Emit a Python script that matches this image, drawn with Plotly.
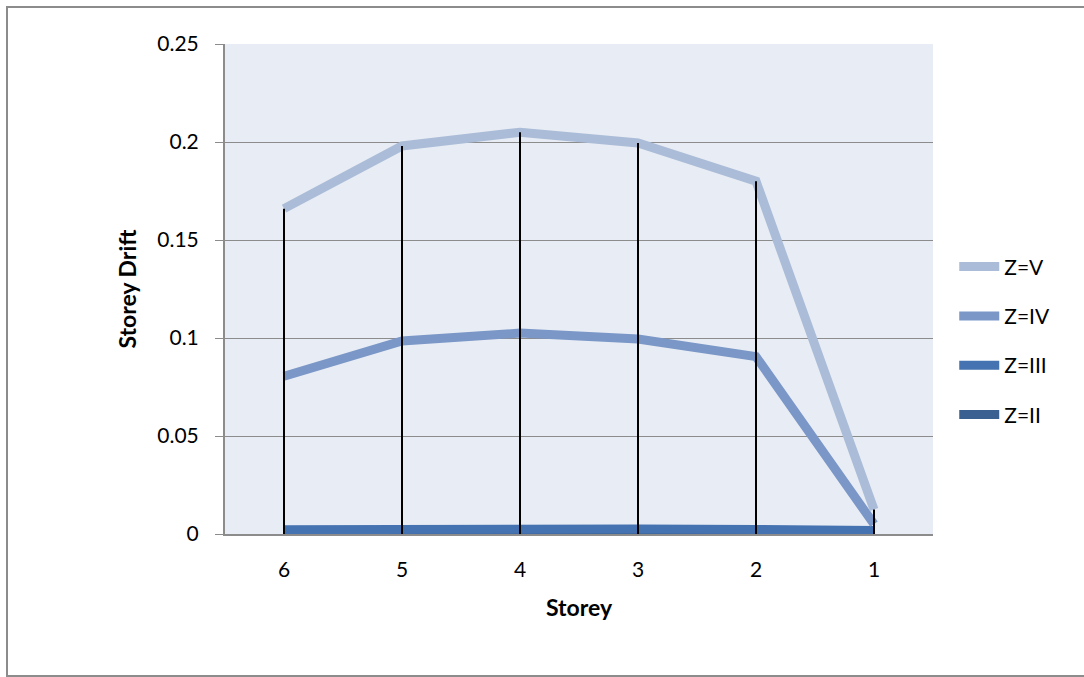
import plotly.graph_objects as go

# Storey drift per storey for each seismic zone
storeys = ["6", "5", "4", "3", "2", "1"]
drift_zone_v = [0.166, 0.198, 0.205, 0.1995, 0.180, 0.0125]
drift_zone_iv = [0.0805, 0.0985, 0.1025, 0.0995, 0.0905, 0.005]
drift_zone_iii = [0.0022, 0.0026, 0.0027, 0.0026, 0.0023, 0.0018]
drift_zone_ii = [0.0015, 0.0018, 0.0019, 0.0018, 0.0016, 0.0012]

y_ticks = [0, 0.05, 0.1, 0.15, 0.2, 0.25]
y_tick_labels = ["0", "0.05", "0.1", "0.15", "0.2", "0.25"]

series = [
    ("Z=V", drift_zone_v, "#AABCD7"),
    ("Z=IV", drift_zone_iv, "#7A97C7"),
    ("Z=III", drift_zone_iii, "#4572B0"),
    ("Z=II", drift_zone_ii, "#3A5F91"),
]

FONT = "Lato, 'Open Sans', sans-serif"

fig = go.Figure()

# Drop lines from the highest series value down to the axis
top_values = [max(vals) for vals in zip(drift_zone_v, drift_zone_iv, drift_zone_iii, drift_zone_ii)]
drop_x, drop_y = [], []
for s, top in zip(storeys, top_values):
    drop_x += [s, s, None]
    drop_y += [top, 0, None]

# Draw lower zones first so Z=III sits on top of Z=II, Z=V on top of all
draw_order = [3, 2, 1, 0]
for i in draw_order:
    name, vals, color = series[i]
    fig.add_trace(go.Scatter(
        x=storeys, y=vals, name=name, mode="lines",
        line=dict(color=color, width=9),
        legendgroup=name, legendrank=i + 1,
    ))

fig.add_trace(go.Scatter(
    x=drop_x, y=drop_y, mode="lines",
    line=dict(color="black", width=2),
    showlegend=False, hoverinfo="skip",
))

fig.update_layout(
    width=1084, height=677,
    margin=dict(l=225, r=151, t=44, b=143),
    paper_bgcolor="white",
    plot_bgcolor="#E8ECF4",
    font=dict(family=FONT, size=21, color="black"),
    showlegend=True,
    legend=dict(
        x=1.03, y=0.394, xanchor="left", yanchor="middle",
        traceorder="grouped", tracegroupgap=19,
        font=dict(family=FONT, size=21, color="black"),
        itemwidth=40, bgcolor="rgba(0,0,0,0)",
    ),
    xaxis=dict(
        type="category", categoryorder="array", categoryarray=storeys,
        range=[-0.5, 5.5],
        showline=True, linecolor="#8C8C8C", linewidth=2,
        showgrid=False, ticks="", tickfont=dict(size=21),
        ticklabelstandoff=16,
        title=dict(text="<b>Storey</b>", font=dict(size=23), standoff=20),
    ),
    yaxis=dict(
        range=[0, 0.25], tickvals=y_ticks, ticktext=y_tick_labels,
        showline=True, linecolor="#8C8C8C", linewidth=2,
        showgrid=True, gridcolor="#8C8C8C", gridwidth=1.3,
        ticks="outside", ticklen=8, tickcolor="#8C8C8C", tickwidth=1.3,
        zeroline=False, tickfont=dict(size=21), ticklabelstandoff=12,
        title=dict(text="<b>Storey Drift</b>", font=dict(size=23), standoff=14),
    ),
    shapes=[dict(
        type="rect", xref="paper", yref="paper",
        x0=-0.3079, x1=1.4, y0=-0.2898, y1=1.0755,
        line=dict(color="#8C8C8C", width=2), fillcolor="rgba(0,0,0,0)",
        layer="below",
    )],
)

fig.write_html("out.html")
